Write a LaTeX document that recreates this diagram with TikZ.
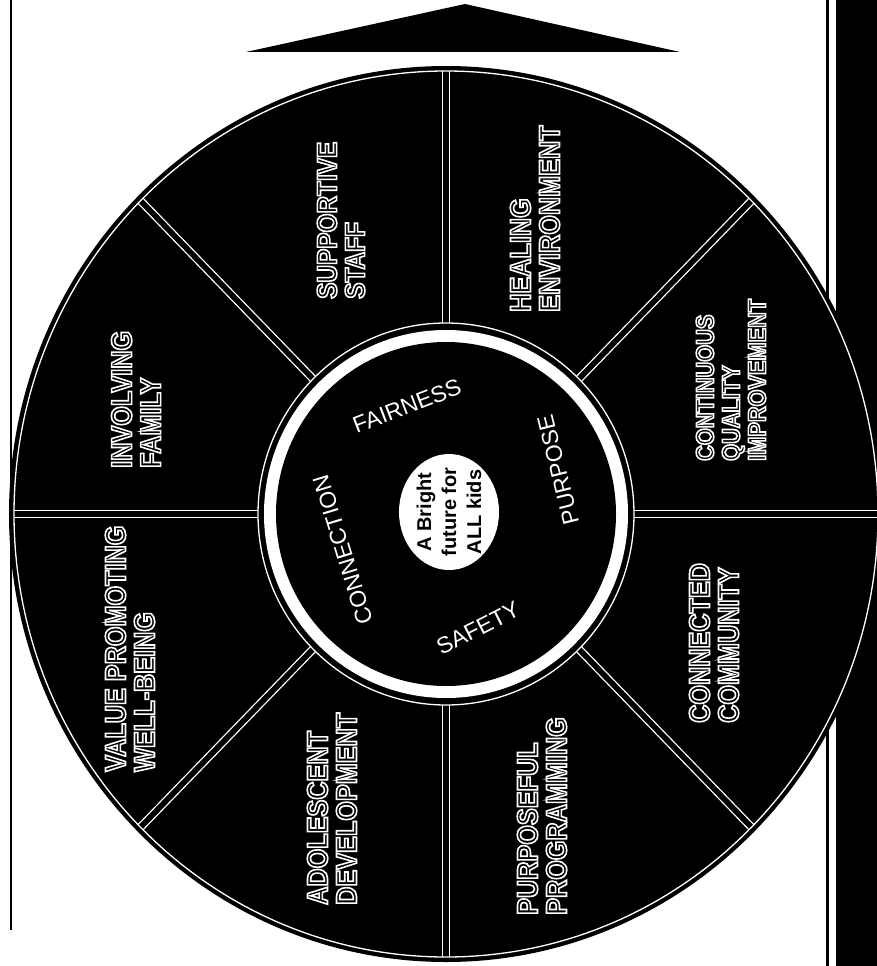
\documentclass[tikz,border=0pt]{standalone}
\usepackage{fontspec}
\setmainfont{Liberation Sans}
\newfontfamily\labfont{Liberation Sans}[FakeStretch=0.87]
\newcommand\hollowtext[1]{\special{pdf:literal direct 1 Tr 1.6 w 1 1 1 RG}#1\special{pdf:literal direct 0 Tr}}
\begin{document}
\begin{tikzpicture}[x=1pt,y=-1pt,
  lab/.style={font=\labfont\bfseries\fontsize{29}{29}\selectfont, text=white, rotate=90, align=left, inner sep=0pt, anchor=west},
  smalllab/.style={lab, font=\labfont\bfseries\fontsize{25}{26}\selectfont},
  midlab/.style={lab, font=\labfont\bfseries\fontsize{28}{28}\selectfont},
  val/.style={font=\fontsize{23}{23}\selectfont, text=white, inner sep=0pt},
  core/.style={font=\bfseries\fontsize{20}{25}\selectfont, text=black, rotate=90, align=center, inner sep=0pt},
  divwhite/.style={white, line width=8.3pt},
  divblack/.style={black, line width=5.7pt},
  thinwhite/.style={white, line width=1.3pt}
]
\useasboundingbox (0,0) rectangle (877,966);
% frame
\draw[line width=2.5pt] (11,0) -- (11,930);
\draw[line width=3pt] (827,0) -- (827,966);
\fill (836,0) rectangle (877,966);
% arrow
\fill (465,4) -- (680,52) -- (246,52) -- cycle;
% wheel
\fill[black] (446,514) ellipse [x radius=437, y radius=448];
\foreach \a in {0,45,...,315} {
  \draw[divwhite] ({446+188*cos(\a)},{514-191*sin(\a)}) -- ({446+432*cos(\a)},{514-443*sin(\a)});
  \draw[divblack] ({446+188*cos(\a)},{514-191*sin(\a)}) -- ({446+432*cos(\a)},{514-443*sin(\a)});
}
\draw[thinwhite] (446,514) ellipse [x radius=432, y radius=443];
\draw[thinwhite] (446,514) ellipse [x radius=188, y radius=191];
\fill[white] (446,514) ellipse [x radius=182, y radius=184];
\fill[black] (446,514) ellipse [x radius=170, y radius=172];
\fill[white] (449,512) ellipse [x radius=50, y radius=58];
% outer labels
\node[midlab] (supp) at (341,299) {\hollowtext{SUPPORTIVE\\STAFF}};
\node[lab] (heal) at (535,312) {\hollowtext{HEALING\\ENVIRONMENT}};
\node[smalllab] (cqi) at (731,461) {\hollowtext{CONTINUOUS\\QUALITY\\IMPROVEMENT}};
\node[lab] (comm) at (714,723) {\hollowtext{CONNECTED\\COMMUNITY}};
\node[lab] (prog) at (542,915) {\hollowtext{PURPOSEFUL\\PROGRAMMING}};
\node[lab] (adol) at (332,905) {\hollowtext{ADOLESCENT\\DEVELOPMENT}};
\node[lab] (value) at (130,772) {\hollowtext{VALUE PROMOTING\\WELL-BEING}};
\node[lab] (fam) at (136,468) {\hollowtext{INVOLVING\\FAMILY}};
% inner values
\node[val, rotate=21] (fair) at (407,406) {FAIRNESS};
\node[val, rotate=104] (purp) at (558,470) {PURPOSE};
\node[val, rotate=27] (safe) at (478,628) {SAFETY};
\node[val, rotate=107] (conn) at (343,550) {CONNECTION};
% core
\node[core] (centre) at (449,512) {A Bright\\future for\\ALL kids};
\end{tikzpicture}
\end{document}
